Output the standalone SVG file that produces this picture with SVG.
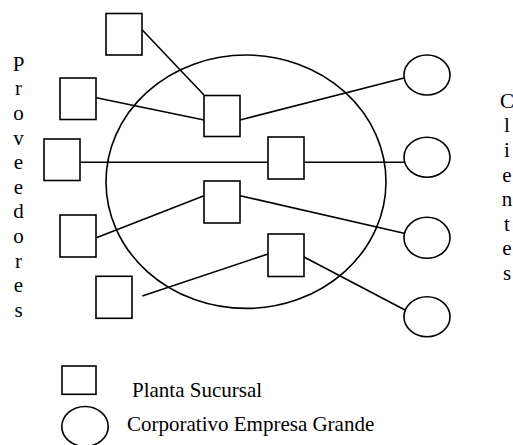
<svg xmlns="http://www.w3.org/2000/svg" width="513" height="445" viewBox="0 0 513 445">
<style>
.b{fill:#fff;stroke:#000;stroke-width:1.6}
.c{fill:#fff;stroke:#000;stroke-width:1.6}
.l{fill:none;stroke:#000;stroke-width:1.6}
.t{font-family:"Liberation Serif","Times New Roman",serif;font-size:21px;fill:#000}
.v{font-family:"Liberation Serif","Times New Roman",serif;font-size:21px;fill:#000;text-anchor:middle}
</style>
<rect width="513" height="445" fill="#fff"/>
<g id="region"><ellipse class="l" cx="246" cy="181.7" rx="140" ry="126.7"/></g>
<g id="connectors">
<line class="l" x1="142.3" y1="30" x2="204" y2="95"/>
<line class="l" x1="96.3" y1="97.7" x2="204" y2="120"/>
<line class="l" x1="240" y1="120" x2="404" y2="78"/>
<line class="l" x1="80" y1="162.3" x2="404" y2="162.3"/>
<line class="l" x1="96.3" y1="237.7" x2="204" y2="195.7"/>
<line class="l" x1="240" y1="195.7" x2="404" y2="233.3"/>
<line class="l" x1="142.3" y1="296" x2="268" y2="254"/>
<line class="l" x1="304" y1="257" x2="405" y2="310"/>
</g>
<g id="boxA"><rect class="b" x="106" y="13.5" width="36" height="41.5"/></g>
<g id="boxB"><rect class="b" x="60" y="78" width="36" height="41.5"/></g>
<g id="boxC"><rect class="b" x="44" y="139" width="36" height="41.5"/></g>
<g id="boxE"><rect class="b" x="60" y="215" width="36" height="42"/></g>
<g id="boxF"><rect class="b" x="96" y="276.3" width="36" height="42"/></g>
<g id="boxD1"><rect class="b" x="204" y="95.5" width="36" height="41"/></g>
<g id="boxD2"><rect class="b" x="268" y="137" width="36" height="42"/></g>
<g id="boxD3"><rect class="b" x="204" y="181" width="36" height="42"/></g>
<g id="boxD4"><rect class="b" x="268" y="234" width="36" height="42.5"/></g>
<g id="client1"><ellipse class="c" cx="427" cy="75" rx="23" ry="20"/></g>
<g id="client2"><ellipse class="c" cx="427" cy="157.3" rx="23" ry="20"/></g>
<g id="client3"><ellipse class="c" cx="427" cy="237.8" rx="23" ry="20.5"/></g>
<g id="client4"><ellipse class="c" cx="427" cy="316.7" rx="23" ry="20"/></g>
<g id="label-proveedores">
<text class="v" x="18.5" y="70.7">P</text>
<text class="v" x="18.5" y="95.3">r</text>
<text class="v" x="18.5" y="119.9">o</text>
<text class="v" x="18.5" y="144.5">v</text>
<text class="v" x="18.5" y="169.1">e</text>
<text class="v" x="18.5" y="193.7">e</text>
<text class="v" x="18.5" y="218.3">d</text>
<text class="v" x="18.5" y="242.9">o</text>
<text class="v" x="18.5" y="267.5">r</text>
<text class="v" x="18.5" y="292.1">e</text>
<text class="v" x="18.5" y="316.7">s</text>
</g>
<g id="label-clientes">
<text class="v" x="507" y="107.7">C</text>
<text class="v" x="507" y="132.3">l</text>
<text class="v" x="507" y="156.9">i</text>
<text class="v" x="507" y="181.5">e</text>
<text class="v" x="507" y="206.1">n</text>
<text class="v" x="507" y="230.7">t</text>
<text class="v" x="507" y="255.3">e</text>
<text class="v" x="507" y="279.9">s</text>
</g>
<g id="legend-planta">
<rect class="b" x="62" y="366" width="34" height="28.3"/>
<text class="t" x="132" y="396.7">Planta Sucursal</text>
</g>
<g id="legend-corporativo">
<ellipse class="c" cx="85" cy="426.5" rx="23.2" ry="20"/>
<text class="t" x="127" y="430.5">Corporativo Empresa Grande</text>
</g>
</svg>
